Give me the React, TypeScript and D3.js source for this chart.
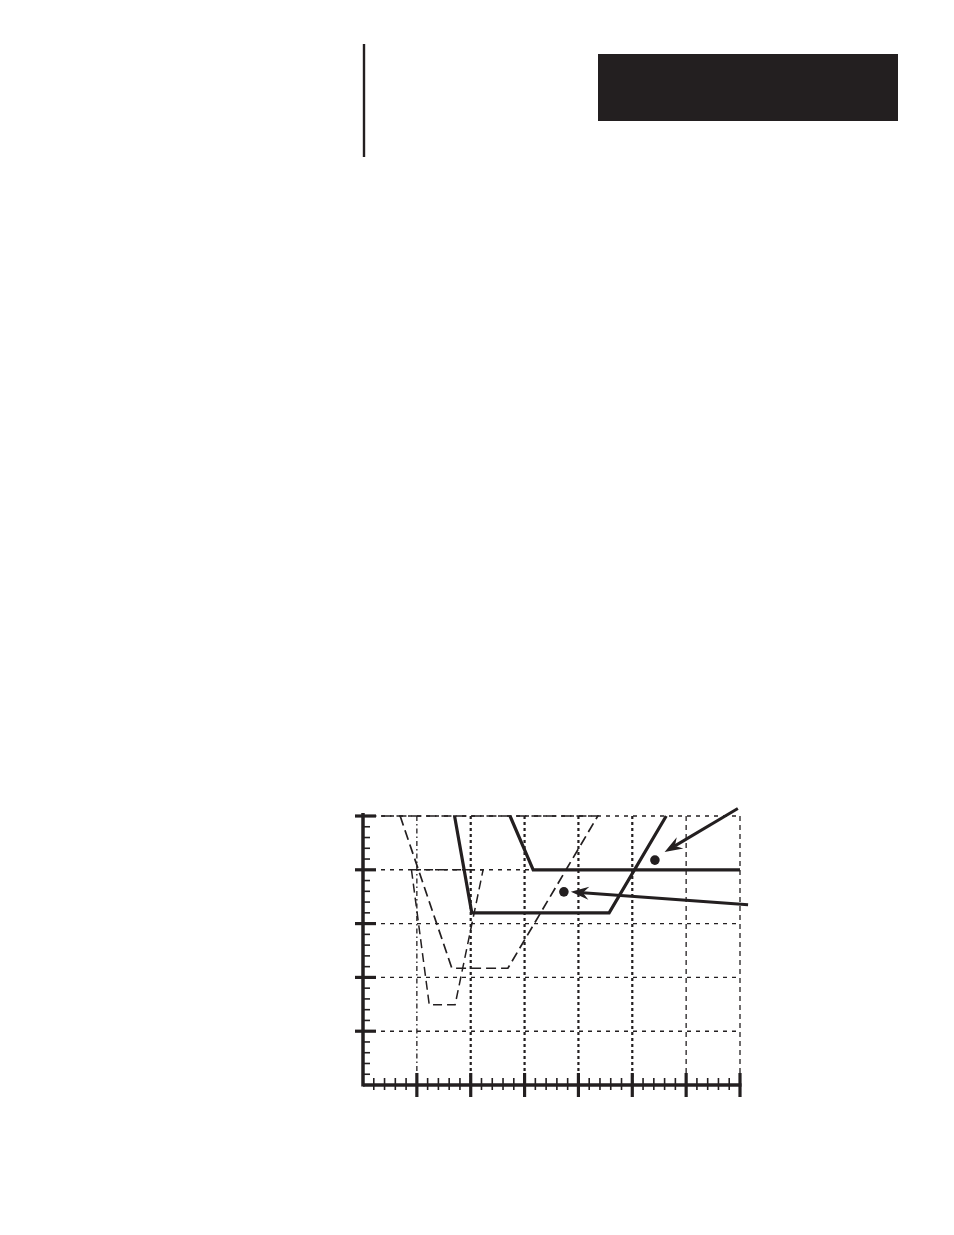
import { line, range, scaleLinear, select } from 'd3';
import React, { useEffect, useRef } from 'react';

type Pt = { x: number; y: number };

// axis domain (no labels on the original figure)
const xMajor = [0, 1, 2, 3, 4, 5, 6, 7];
const yMajor = [0, 1, 2, 3, 4, 5];
const minorPerMajor = 5;

// heavy solid curves
const solidLower: Pt[] = [
  { x: 1.7, y: 5 },
  { x: 2.02, y: 3.2 },
  { x: 4.57, y: 3.2 },
  { x: 5.63, y: 5 },
];
const solidUpper: Pt[] = [
  { x: 2.73, y: 5 },
  { x: 3.16, y: 4 },
  { x: 7, y: 4 },
];

// light dashed curves
const dashedOuter: Pt[] = [
  { x: 0.69, y: 5 },
  { x: 1.65, y: 2.17 },
  { x: 2.69, y: 2.17 },
  { x: 4.36, y: 5 },
  { x: 0, y: 5 },
];
const dashedInner: Pt[] = [
  { x: 0.9, y: 4 },
  { x: 1.23, y: 1.49 },
  { x: 1.71, y: 1.49 },
  { x: 2.23, y: 4 },
  { x: 0.9, y: 4 },
];

// operating points and callout arrows
const dots: Pt[] = [
  { x: 5.42, y: 4.18 },
  { x: 3.73, y: 3.59 },
];
const arrows: Array<[Pt, Pt]> = [
  [{ x: 6.96, y: 5.14 }, { x: 5.6, y: 4.33 }],
  [{ x: 7.15, y: 3.35 }, { x: 3.86, y: 3.59 }],
];

const INK = '#231f20';

const Chart: React.FC = () => {
  const svgRef = useRef<SVGSVGElement>(null);

  useEffect(() => {
    const svg = select(svgRef.current);
    svg.selectAll('*').remove();

    const xScale = scaleLinear().domain([0, 7]).range([363, 740]);
    const yScale = scaleLinear().domain([0, 5]).range([1085, 816]);
    const x0 = xScale(0);
    const y0 = yScale(0);

    // header decoration
    svg
      .append('line')
      .attr('x1', 364)
      .attr('x2', 364)
      .attr('y1', 44)
      .attr('y2', 157)
      .attr('stroke', INK)
      .attr('stroke-width', 2.4);
    svg
      .append('rect')
      .attr('x', 598)
      .attr('y', 54)
      .attr('width', 300)
      .attr('height', 67)
      .attr('fill', INK);

    const g = svg.append('g');

    // grid: rows
    g.selectAll('.row')
      .data(yMajor.filter((d) => d > 0))
      .join('line')
      .attr('x1', x0)
      .attr('x2', xScale(7))
      .attr('y1', (d) => yScale(d))
      .attr('y2', (d) => yScale(d))
      .attr('stroke', INK)
      .attr('stroke-width', 1.4)
      .attr('stroke-dasharray', '4,5');

    // grid: columns (middle ones printed heavier)
    g.selectAll('.col')
      .data(xMajor.filter((d) => d > 0))
      .join('line')
      .attr('x1', (d) => xScale(d))
      .attr('x2', (d) => xScale(d))
      .attr('y1', yScale(5))
      .attr('y2', y0)
      .attr('stroke', INK)
      .attr('stroke-width', (d) => (d >= 2 && d <= 5 ? 2.2 : 1.3))
      .attr('stroke-dasharray', (d) =>
        d >= 2 && d <= 5 ? '3,3' : d === 1 ? '5,3,1.5,3' : '5,4',
      );

    const lineGen = line<Pt>()
      .x((d) => xScale(d.x))
      .y((d) => yScale(d.y));

    // dashed curves
    g.append('path')
      .attr('d', lineGen(dashedOuter))
      .attr('fill', 'none')
      .attr('stroke', INK)
      .attr('stroke-width', 1.7)
      .attr('stroke-dasharray', '10,5');
    g.append('path')
      .attr('d', lineGen(dashedInner))
      .attr('fill', 'none')
      .attr('stroke', INK)
      .attr('stroke-width', 1.5)
      .attr('stroke-dasharray', '9,5');

    // solid curves
    [solidLower, solidUpper].forEach((pts) => {
      g.append('path')
        .attr('d', lineGen(pts))
        .attr('fill', 'none')
        .attr('stroke', INK)
        .attr('stroke-width', 3.2)
        .attr('stroke-linejoin', 'miter');
    });

    // axes
    g.append('line')
      .attr('x1', x0)
      .attr('x2', xScale(7) + 1.5)
      .attr('y1', y0)
      .attr('y2', y0)
      .attr('stroke', INK)
      .attr('stroke-width', 3.5);
    g.append('line')
      .attr('x1', x0)
      .attr('x2', x0)
      .attr('y1', yScale(5) - 3)
      .attr('y2', y0 + 1.5)
      .attr('stroke', INK)
      .attr('stroke-width', 3.5);

    const xMinor = range(0, 7 * minorPerMajor + 1)
      .map((i) => i / minorPerMajor)
      .filter((d) => d > 0 && !Number.isInteger(d));
    const yMinor = range(0, 5 * minorPerMajor + 1)
      .map((i) => i / minorPerMajor)
      .filter((d) => d > 0 && !Number.isInteger(d));

    g.selectAll('.xmaj')
      .data(xMajor.filter((d) => d > 0))
      .join('line')
      .attr('x1', (d) => xScale(d))
      .attr('x2', (d) => xScale(d))
      .attr('y1', y0 - 12)
      .attr('y2', y0 + 12)
      .attr('stroke', INK)
      .attr('stroke-width', 3.2);
    g.selectAll('.xmin')
      .data(xMinor)
      .join('line')
      .attr('x1', (d) => xScale(d))
      .attr('x2', (d) => xScale(d))
      .attr('y1', y0 - 7)
      .attr('y2', y0 + 5)
      .attr('stroke', INK)
      .attr('stroke-width', 1.6);
    g.selectAll('.ymaj')
      .data(yMajor.filter((d) => d > 0))
      .join('line')
      .attr('x1', x0 - 8)
      .attr('x2', x0 + 13)
      .attr('y1', (d) => yScale(d))
      .attr('y2', (d) => yScale(d))
      .attr('stroke', INK)
      .attr('stroke-width', 3.2);
    g.selectAll('.ymin')
      .data(yMinor)
      .join('line')
      .attr('x1', x0)
      .attr('x2', x0 + 7)
      .attr('y1', (d) => yScale(d))
      .attr('y2', (d) => yScale(d))
      .attr('stroke', INK)
      .attr('stroke-width', 1.6);

    // dots
    g.selectAll('.dot')
      .data(dots)
      .join('circle')
      .attr('cx', (d) => xScale(d.x))
      .attr('cy', (d) => yScale(d.y))
      .attr('r', 4.8)
      .attr('fill', INK);

    // callout arrows
    arrows.forEach(([from, to]) => {
      const x1 = xScale(from.x);
      const y1 = yScale(from.y);
      const x2 = xScale(to.x);
      const y2 = yScale(to.y);
      const a = Math.atan2(y2 - y1, x2 - x1);
      const len = 18;
      const back = 12;
      const half = 6.5;
      const pt = (dx: number, dy: number) => [
        x2 + dx * Math.cos(a) - dy * Math.sin(a),
        y2 + dx * Math.sin(a) + dy * Math.cos(a),
      ];
      g.append('line')
        .attr('x1', x1)
        .attr('y1', y1)
        .attr('x2', pt(-back, 0)[0])
        .attr('y2', pt(-back, 0)[1])
        .attr('stroke', INK)
        .attr('stroke-width', 3);
      const head = [pt(0, 0), pt(-len, -half), pt(-back, 0), pt(-len, half)];
      g.append('path')
        .attr('d', `M${head.map((p) => p.join(',')).join('L')}Z`)
        .attr('fill', INK);
    });
  }, []);

  return (
    <svg
      ref={svgRef}
      width={954}
      height={1235}
      style={{ position: 'absolute', left: 0, top: 0, background: '#fff' }}
    />
  );
};

export default function App() {
  return <Chart />;
}
